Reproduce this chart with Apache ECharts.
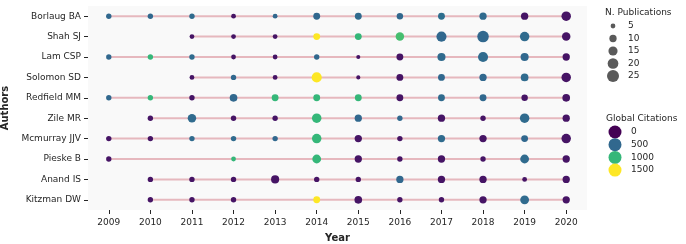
<!DOCTYPE html>
<html>
<head>
<meta charset="utf-8">
<script src="https://cdn.jsdelivr.net/npm/echarts@6/dist/echarts.min.js"></script>
<style>
  html, body { margin: 0; padding: 0; background: #fff; }
  #main { width: 686px; height: 244px; }
</style>
</head>
<body>
<div id="main"></div>
<script>
var authors = ['Borlaug BA', 'Shah SJ', 'Lam CSP', 'Solomon SD', 'Redfield MM',
               'Zile MR', 'Mcmurray JJV', 'Pieske B', 'Anand IS', 'Kitzman DW'];
var years = ['2009', '2010', '2011', '2012', '2013', '2014', '2015', '2016', '2017', '2018', '2019', '2020'];

// publications per author and year (null = no paper that year)
var publications = [
  [6, 6, 6, 5, 5, 9, 9, 8, 9, 10, 10, 16],
  [null, null, 5, 5, 5, 9, 9, 13, 18, 23, 16, 13],
  [6, 6, 6, 5, 5, 6, 4, 9, 12, 18, 12, 10],
  [null, null, 5, 6, 5, 18, 4, 9, 9, 10, 11, 16],
  [6, 6, 6, 11, 9, 9, 9, 9, 9, 9, 8, 11],
  [null, 6, 13, 6, 6, 16, 10, 6, 10, 6, 16, 10],
  [6, 6, 6, 6, 6, 16, 10, 6, 10, 10, 9, 16],
  [6, null, null, 5, null, 14, 10, 6, 10, 6, 14, 10],
  [null, 6, 6, 6, 12, 6, 6, 10, 10, 10, 5, 10],
  [null, 6, 6, 6, null, 9, 11, 6, 6, 10, 14, 10]
];
// global citations per author and year
var citations = [
  [500, 500, 520, 80, 500, 500, 520, 500, 540, 520, 80, 80],
  [null, null, 80, 80, 80, 1500, 1000, 1050, 500, 500, 520, 80],
  [500, 1000, 520, 80, 80, 500, 80, 80, 520, 520, 500, 80],
  [null, null, 80, 500, 80, 1500, 80, 80, 500, 500, 520, 80],
  [500, 1000, 80, 500, 1000, 1000, 1000, 80, 520, 500, 80, 80],
  [null, 80, 520, 80, 80, 1000, 500, 500, 80, 80, 520, 80],
  [80, 80, 520, 520, 500, 1000, 80, 80, 520, 80, 500, 80],
  [80, null, null, 1000, null, 1000, 80, 80, 80, 80, 520, 80],
  [null, 80, 80, 80, 80, 80, 80, 500, 80, 80, 80, 80],
  [null, 80, 80, 80, null, 1500, 80, 80, 80, 80, 520, 80]
];

var sizeLegend = [5, 10, 15, 20, 25];
var citeLegend = [0, 500, 1000, 1500];

var viridis = ['#440154', '#482878', '#3e4989', '#31688e', '#26828e',
               '#1f9e89', '#35b779', '#6ece58', '#b5de2b', '#fde725'];
var citeMax = 1500;

function symbolSize(n) {
  return Math.sqrt(Math.max(6.1 * n - 7.75, 9));
}

function hexToRgb(h) {
  return [parseInt(h.substr(1, 2), 16), parseInt(h.substr(3, 2), 16), parseInt(h.substr(5, 2), 16)];
}
function viridisAt(t) {
  t = Math.min(1, Math.max(0, t)) * (viridis.length - 1);
  var i = Math.min(Math.floor(t), viridis.length - 2);
  var f = t - i;
  var a = hexToRgb(viridis[i]), b = hexToRgb(viridis[i + 1]);
  return 'rgb(' + a.map(function (v, k) { return Math.round(v + (b[k] - v) * f); }).join(',') + ')';
}

var points = [];
var lineSeries = [];
authors.forEach(function (name, i) {
  var first = -1, last = -1;
  years.forEach(function (y, j) {
    if (publications[i][j] != null) {
      points.push([y, name, publications[i][j], citations[i][j]]);
      if (first < 0) first = j;
      last = j;
    }
  });
  lineSeries.push({
    type: 'line',
    data: [[years[first], name], [years[last], name]],
    symbol: 'none',
    silent: true,
    z: 1,
    lineStyle: { color: '#e6b8be', width: 2 }
  });
});

var textColor = '#262626';
var font = 'DejaVu Sans';

var graphics = [];
graphics.push({
  type: 'text', left: 605, top: 8,
  style: { text: 'N. Publications', font: '9px "DejaVu Sans"', fill: textColor }
});
sizeLegend.forEach(function (n, k) {
  var cy = 26 + k * 12.5;
  graphics.push({
    type: 'circle', shape: { cx: 613, cy: cy, r: symbolSize(n) / 2 },
    style: { fill: '#5a5a5a' }
  });
  graphics.push({
    type: 'text', x: 628, y: cy,
    style: { text: String(n), font: '9px "DejaVu Sans"', fill: textColor, verticalAlign: 'middle' }
  });
});
graphics.push({
  type: 'text', left: 606, top: 114,
  style: { text: 'Global Citations', font: '9px "DejaVu Sans"', fill: textColor }
});
citeLegend.forEach(function (c, k) {
  var cy = 132 + k * 12.7;
  graphics.push({
    type: 'circle', shape: { cx: 615, cy: cy, r: 6.5 },
    style: { fill: viridisAt(c / citeMax) }
  });
  graphics.push({
    type: 'text', x: 631, y: cy,
    style: { text: String(c), font: '9px "DejaVu Sans"', fill: textColor, verticalAlign: 'middle' }
  });
});

var chart = echarts.init(document.getElementById('main'), null, { renderer: 'canvas' });

chart.setOption({
  animation: false,
  backgroundColor: '#ffffff',
  textStyle: { fontFamily: font },
  grid: {
    left: 88, right: 99, top: 6, height: 204,
    outerBoundsMode: 'none',
    containLabel: false,
    show: true, backgroundColor: '#f9f9f9', borderWidth: 0
  },
  xAxis: {
    type: 'category',
    data: years,
    boundaryGap: true,
    name: 'Year',
    nameLocation: 'middle',
    nameGap: 23,
    nameTextStyle: { fontWeight: 'bold', fontSize: 10, color: textColor },
    axisLine: { show: false },
    axisTick: { show: true, alignWithLabel: true, length: 4, lineStyle: { color: textColor } },
    axisLabel: { fontSize: 9, color: textColor, margin: 8 },
    splitLine: { show: false }
  },
  yAxis: {
    type: 'category',
    data: authors,
    inverse: true,
    boundaryGap: true,
    name: 'Authors',
    nameLocation: 'middle',
    nameRotate: 90,
    nameGap: 65,
    nameTextStyle: { fontWeight: 'bold', fontSize: 10, color: textColor },
    axisLine: { show: false },
    axisTick: { show: true, alignWithLabel: true, length: 4, lineStyle: { color: textColor } },
    axisLabel: { fontSize: 9, color: textColor, margin: 7 },
    splitLine: { show: false }
  },
  visualMap: {
    show: false,
    type: 'continuous',
    dimension: 3,
    seriesIndex: authors.length,
    min: 0,
    max: citeMax,
    inRange: { color: viridis }
  },
  series: lineSeries.concat([{
    type: 'scatter',
    data: points,
    z: 3,
    symbolSize: function (val) { return symbolSize(val[2]); },
    itemStyle: { opacity: 1 }
  }]),
  graphic: graphics
});
</script>
</body>
</html>
